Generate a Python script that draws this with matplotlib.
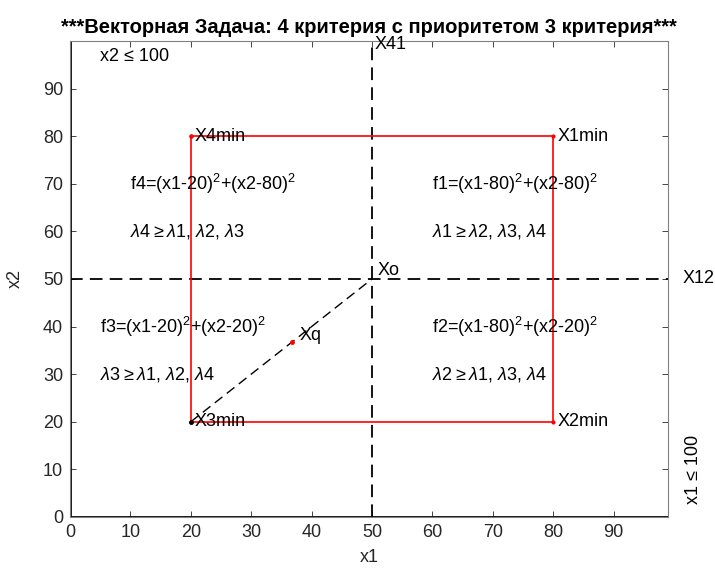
import matplotlib
matplotlib.use("Agg")
import matplotlib.pyplot as plt

plt.rcParams['font.family'] = ['Liberation Sans', 'DejaVu Sans']
plt.rcParams['mathtext.fontset'] = 'custom'
plt.rcParams['mathtext.rm'] = 'Liberation Sans'
plt.rcParams['mathtext.it'] = 'Liberation Sans:italic'
plt.rcParams['mathtext.default'] = 'regular'

# Feasible square: corners of the individual minima X1..X4
rect_x = [20, 80, 80, 20, 20]
rect_y = [80, 80, 20, 20, 80]
corner_names = ["X4min", "X1min", "X2min", "X3min"]
corner_x = [20, 80, 80, 20]
corner_y = [80, 80, 20, 20]

# Compromise points
xo = (50, 50)
xq = (36.7, 36.7)

# Criteria and priorities per quadrant
crit_text = ["f1=(x1-80)$^2$+(x2-80)$^2$", "f2=(x1-80)$^2$+(x2-20)$^2$",
             "f3=(x1-20)$^2$+(x2-20)$^2$", "f4=(x1-20)$^2$+(x2-80)$^2$"]
crit_x = [60, 60, 5, 10]
crit_y = [70, 40, 40, 70]
L = r"$\mathit{\lambda}$"
prio_text = [f"{L}1\u2009≥\u2009{L}2, {L}3, {L}4",
             f"{L}2\u2009≥\u2009{L}1, {L}3, {L}4",
             f"{L}3\u2009≥\u2009{L}1, {L}2, {L}4",
             f"{L}4\u2009≥\u2009{L}1, {L}2, {L}3"]
prio_x = [60, 60, 5, 10]
prio_y = [60, 30, 30, 60]

xticks = list(range(0, 100, 10))
yticks = list(range(0, 100, 10))

fig = plt.figure(figsize=(7.15, 5.69), dpi=100)
ax = fig.add_axes([0.0979, 0.0914, 0.8363, 0.8366])

# Coordinate axes x1=0 and x2=0
ax.plot([0, 99], [0, 0], color='black', lw=2)
ax.plot([0, 0], [0, 100], color='black', lw=2)

# Dividing lines through Xo
ax.plot([50, 50], [0, 100], color='black', lw=1.3, ls=(0, (7, 4)))
ax.plot([0, 99], [50, 50], color='black', lw=1.3, ls=(0, (7, 4)))
ax.plot([20, xo[0]], [20, xo[1]], color='black', lw=1.0, ls=(0, (7, 4)))

# Square of minima
ax.plot(rect_x, rect_y, color='red', lw=1.2, marker='.', ms=4)
ax.plot([20], [20], 'k.', ms=5)
ax.plot([xq[0]], [xq[1]], 'r.', ms=5)

fs = 13
for n, x, y in zip(corner_names, corner_x, corner_y):
    ax.text(x + 0.7, y, n, fontsize=fs, va='center', ha='left')
ax.text(xo[0] + 1, xo[1] + 1.8, "Xo", fontsize=fs, va='center')
ax.text(xq[0] + 1.3, xq[1] + 1.5, "Xq", fontsize=fs, va='center')
for t, x, y in zip(crit_text, crit_x, crit_y):
    ax.text(x, y, t, fontsize=fs, va='center')
for t, x, y in zip(prio_text, prio_x, prio_y):
    ax.text(x, y, t, fontsize=fs, va='center')

ax.text(5, 96.8, "x2 ≤ 100", fontsize=fs, va='center')
ax.text(50.5, 99.3, "X41", fontsize=fs, va='center', ha='left')
ax.text(101.5, 50, "X12", fontsize=fs, va='center', ha='left')
ax.text(103.3, 2.8, "x1 ≤ 100", fontsize=fs, va='bottom', ha='center',
        rotation=90)

ax.set_xlim(0, 99)
ax.set_ylim(0, 100)
ax.set_xticks(xticks)
ax.set_yticks(yticks)
ax.tick_params(direction='in', top=True, right=True, labelsize=fs,
               colors='#262626', length=4, width=0.6, pad=5)
for s in ax.spines.values():
    s.set_color('#808080')
    s.set_linewidth(0.8)
ax.set_xlabel("x1", fontsize=fs, color='#262626', labelpad=6)
ax.set_ylabel("x2", fontsize=fs, color='#262626', labelpad=14)
ax.set_title("***Векторная Задача: 4 критерия с приоритетом 3 критерия***",
             fontsize=14.5, fontweight='bold', pad=6)

fig.savefig("out.png", dpi=100)
